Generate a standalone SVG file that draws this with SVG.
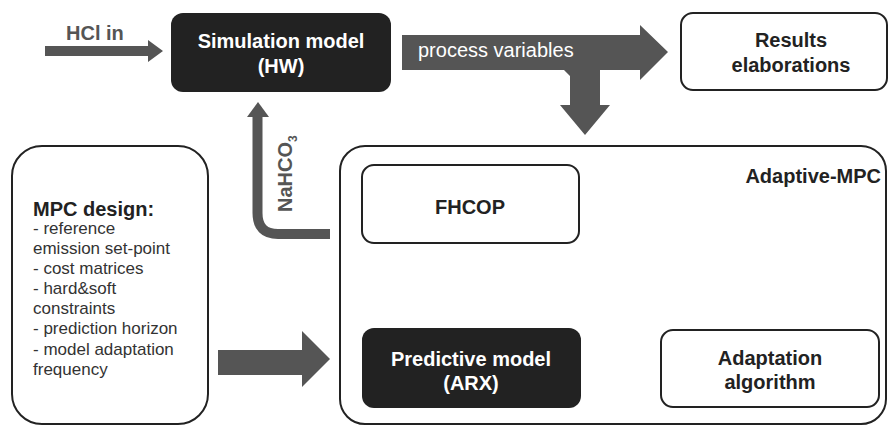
<svg xmlns="http://www.w3.org/2000/svg" width="888" height="427" viewBox="0 0 888 427">
<style>
.t{font-family:"Liberation Sans",Arial,sans-serif}
.b{font-weight:bold}
.w{fill:#fff}
.d{fill:#222}
.g{fill:#555}
.box{fill:#fff;stroke:#222;stroke-width:2}
.dark{fill:#222}
.lst{font-family:"Liberation Sans",Arial,sans-serif;font-size:17px;fill:#333}
</style>
<rect width="888" height="427" fill="#fff"/>
<g id="connectors">
  <polygon class="g" points="45,46 148,46 148,40 163,51 148,62 148,56 45,56"/>
  <polygon class="g" points="402,35 640,35 640,25 668,52 640,80 640,70 600,70 600,105 610,105 585,135 560,105 570,105 570,76 564,70 402,70"/>
  <path d="M330,234 H278 Q257.5,234 257.5,213 V116" fill="none" stroke="#555" stroke-width="10"/>
  <polygon class="g" points="247,117 258,102 269,117"/>
  <polygon class="g" points="218,350 302,350 302,331 330,359 302,387 302,375 218,375"/>
  <polygon class="d" points="470,252 494,272 482,272 482,295 494,295 470,317 446,295 458,295 458,272 446,272"/>
  <polygon class="d" points="654,358 611,358 611,345 587,368 611,392 611,378 654,378"/>
</g>
<g id="hcl-label"><text class="t b g" x="66" y="40" font-size="20">HCl in</text></g>
<g id="pv-label"><text class="t w" x="418" y="57" font-size="20">process variables</text></g>
<g id="nahco3-label"><text class="t b g" transform="translate(292,212) rotate(-90)" font-size="20">NaHCO<tspan font-size="12" dy="5">3</tspan></text></g>
<g id="simulation-model">
  <rect class="dark" x="171" y="13" width="220" height="79" rx="12"/>
  <text class="t b w" x="281" y="48" font-size="20" text-anchor="middle">Simulation model</text>
  <text class="t b w" x="281" y="73" font-size="20" text-anchor="middle">(HW)</text>
</g>
<g id="results">
  <rect class="box" x="681" y="13" width="206" height="77" rx="12"/>
  <text class="t b d" x="791" y="47" font-size="20" text-anchor="middle">Results</text>
  <text class="t b d" x="791" y="72" font-size="20" text-anchor="middle">elaborations</text>
</g>
<g id="mpc-design">
  <rect class="box" x="12" y="146" width="196" height="278" rx="30"/>
  <text class="t b d" x="33" y="216" font-size="20">MPC design:</text>
  <text class="lst" x="33" y="234">- reference</text>
  <text class="lst" x="33" y="254">emission set-point</text>
  <text class="lst" x="33" y="274">- cost matrices</text>
  <text class="lst" x="33" y="294">- hard&amp;soft</text>
  <text class="lst" x="33" y="314">constraints</text>
  <text class="lst" x="33" y="334">- prediction horizon</text>
  <text class="lst" x="33" y="355">- model adaptation</text>
  <text class="lst" x="33" y="375">frequency</text>
</g>
<g id="adaptive-mpc">
  <rect class="box" x="340" y="146" width="546" height="278" rx="25"/>
  <text class="t b d" x="881" y="183" font-size="20" text-anchor="end">Adaptive-MPC</text>
</g>
<g id="fhcop">
  <rect class="box" x="362" y="165" width="217" height="78" rx="12"/>
  <text class="t b d" x="470" y="214" font-size="20" text-anchor="middle">FHCOP</text>
</g>
<g id="predictive-model">
  <rect class="dark" x="362" y="328" width="219" height="80" rx="12"/>
  <text class="t b w" x="471" y="366" font-size="20" text-anchor="middle">Predictive model</text>
  <text class="t b w" x="471" y="390" font-size="20" text-anchor="middle">(ARX)</text>
</g>
<g id="adaptation-algorithm">
  <rect class="box" x="661" y="330" width="218" height="77" rx="12"/>
  <text class="t b d" x="770" y="365" font-size="20" text-anchor="middle">Adaptation</text>
  <text class="t b d" x="770" y="389" font-size="20" text-anchor="middle">algorithm</text>
</g>
</svg>
